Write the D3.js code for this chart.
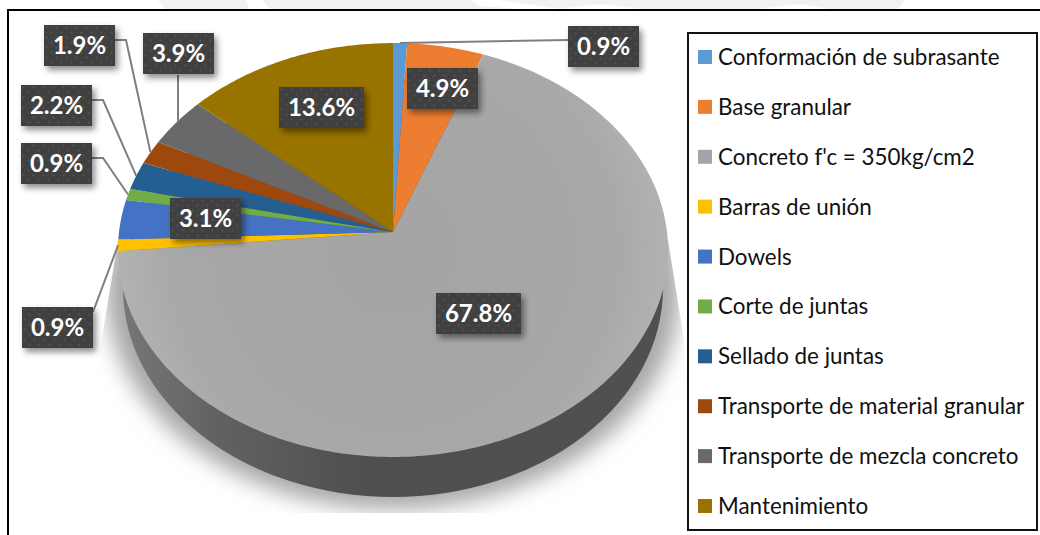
<!DOCTYPE html>
<html>
<head>
<meta charset="utf-8">
<script src="https://cdn.jsdelivr.net/npm/d3@7"></script>
<style>
html,body{margin:0;padding:0;background:#fff;overflow:hidden}
text{font-family:Lato,"Open Sans",sans-serif}
</style>
</head>
<body>
<div id="chart"></div>
<script>

const categories = ["Conformación de subrasante","Base granular","Concreto f'c = 350kg/cm2","Barras de unión","Dowels","Corte de juntas","Sellado de juntas","Transporte de material granular","Transporte de mezcla concreto","Mantenimiento"]
const values = [0.9,4.9,67.8,0.9,3.1,0.9,2.2,1.9,3.9,13.6]
const labels = ["0.9%","4.9%","67.8%","0.9%","3.1%","0.9%","2.2%","1.9%","3.9%","13.6%"]
const colors = ["#5b9bd5","#ed7d31","#a5a5a5","#ffc000","#4472c4","#70ad47","#255e91","#9e480e","#696969","#997300"]

// label box left/top, set by hand like the manually dragged labels of the original
const labelLeft = [568,407,436,22,170,21,21,44,143,279]
const labelTop = [26,68,293,307,198,143,85,25,33,87]

const width = 1040
const height = 535

// apex of the slices and the perspective of the tilted disc
const apexX = 393
const apexY = 232
const scaleX = 274
const scaleY = 205.4
const tilt = 0.087

function project(angle,r){
const u = r*Math.sin(angle)
const v = r*Math.cos(angle)
const d = 1+tilt*v
return [apexX+scaleX*u/d, apexY-scaleY*v/d]
}

const svg = d3.select("#chart")
.append("svg")
.attr("width",width)
.attr("height",height)

const defs = svg.append("defs")

const blur = defs.append("filter")
.attr("id","pieShadow")
.attr("x","-20%").attr("y","-20%").attr("width","140%").attr("height","140%")
blur.append("feGaussianBlur").attr("stdDeviation",11)

const boxShadow = defs.append("filter")
.attr("id","boxShadow")
.attr("x","-30%").attr("y","-30%").attr("width","160%").attr("height","160%")
boxShadow.append("feDropShadow")
.attr("dx",3).attr("dy",4).attr("stdDeviation",3)
.attr("flood-color","#000").attr("flood-opacity",0.45)

const dots = defs.append("pattern")
.attr("id","dots")
.attr("width",10).attr("height",10)
.attr("patternUnits","userSpaceOnUse")
dots.append("rect").attr("width",10).attr("height",10).attr("fill","#404040")
dots.append("circle").attr("cx",2.5).attr("cy",2.5).attr("r",1).attr("fill","#555")
dots.append("circle").attr("cx",7.5).attr("cy",7.5).attr("r",1).attr("fill","#555")

const wallGrad = defs.append("linearGradient").attr("id","wallGrad")
wallGrad.append("stop").attr("offset","0%").attr("stop-color","#777")
wallGrad.append("stop").attr("offset","18%").attr("stop-color","#616161")
wallGrad.append("stop").attr("offset","45%").attr("stop-color","#4f4f4f")
wallGrad.append("stop").attr("offset","100%").attr("stop-color","#505050")

const topGrad = defs.append("radialGradient")
.attr("id","topGrad")
.attr("gradientUnits","userSpaceOnUse")
.attr("cx",apexX).attr("cy",250).attr("r",275)
topGrad.append("stop").attr("offset","0%").attr("stop-color","#a4a4a4")
topGrad.append("stop").attr("offset","80%").attr("stop-color","#a8a8a8")
topGrad.append("stop").attr("offset","100%").attr("stop-color","#b2b2b2")

defs.append("clipPath").attr("id","shadowClip")
.append("path")
.attr("d","M118,240L100,350L90,513L690,513L684,340L668,240Z")

// faint watermark left at the top edge of the scan
const mark = svg.append("g").attr("fill","#f2f2f2")
mark.append("path").attr("d","M158,0L245,0L250,9L165,9Z")
mark.append("path").attr("d","M262,0L470,0L480,6L520,9L270,9Z")
mark.append("path").attr("d","M500,0L905,0L898,9L830,9L800,4L760,9L640,9L600,4L560,9Z")

// outer frame
svg.append("path")
.attr("d","M8,535V10H1040")
.attr("fill","none")
.attr("stroke","#000")
.attr("stroke-width",2)

// shadow and side wall
svg.append("g")
.attr("clip-path","url(#shadowClip)")
.append("ellipse")
.attr("cx",apexX).attr("cy",290)
.attr("rx",287).attr("ry",219)
.attr("fill","#a6a6a6")
.attr("filter","url(#pieShadow)")

svg.append("ellipse")
.attr("cx",apexX).attr("cy",288)
.attr("rx",270).attr("ry",209)
.attr("fill","url(#wallGrad)")

// slices
const pie = d3.pie().value(d=>d).sort(null)
const arcs = pie(values)

const line = d3.line()

function slicePath(d){
const n = Math.max(4,Math.ceil((d.endAngle-d.startAngle)*60))
const pts = d3.range(n+1).map(i=>project(d.startAngle+(d.endAngle-d.startAngle)*i/n,1))
return line([[apexX,apexY]].concat(pts))+"Z"
}

svg.selectAll("path.slice")
.data(arcs)
.enter()
.append("path")
.attr("class","slice")
.attr("d",slicePath)
.attr("fill",(d,i)=>i==2 ? "url(#topGrad)" : colors[i])

// leader lines, from the box edge to the middle of the slice rim
function leader(i){
const d = arcs[i]
const rim = project((d.startAngle+d.endAngle)/2,1)
const l = labelLeft[i]
const t = labelTop[i]
if(i==0) return [[l,t+14],rim]
if(i==3) return [[l+71,t+5],rim]
if(i==8) return [[l+35,t+42],[l+35,rim[1]]]
return [[l+71,t+15],[l+82,t+15],rim]
}

const leaders = [0,3,5,6,7,8]

svg.selectAll("path.leader")
.data(leaders)
.enter()
.append("path")
.attr("class","leader")
.attr("d",i=>line(leader(i)))
.attr("fill","none")
.attr("stroke","#7f7f7f")
.attr("stroke-width",2)

// value labels
const boxes = svg.selectAll("g.label")
.data(labels)
.enter()
.append("g")
.attr("class","label")
.attr("transform",(d,i)=>`translate(${labelLeft[i]},${labelTop[i]})`)

const boxWidth = d=>d.length>4 ? 85 : 71

boxes.append("rect")
.attr("width",boxWidth)
.attr("height",41)
.attr("fill","url(#dots)")
.attr("filter","url(#boxShadow)")

boxes.append("text")
.attr("x",d=>boxWidth(d)/2)
.attr("y",29)
.attr("text-anchor","middle")
.attr("fill","#fff")
.attr("font-size","24px")
.attr("font-weight","bold")
.text(d=>d)

// legend
svg.append("rect")
.attr("x",688).attr("y",33)
.attr("width",349).attr("height",497)
.attr("fill","#fff")
.attr("stroke","#111")
.attr("stroke-width",2)

const legendY = d3.scalePoint()
.domain(categories)
.range([57,506])

const legend = svg.selectAll("g.legend")
.data(categories)
.enter()
.append("g")
.attr("class","legend")
.attr("transform",d=>`translate(698,${legendY(d)})`)

legend.append("rect")
.attr("y",-7)
.attr("width",14)
.attr("height",14)
.attr("fill",(d,i)=>colors[i])

legend.append("text")
.attr("x",20)
.attr("y",8)
.attr("fill","#111")
.attr("font-size","22.4px")
.text(d=>d)

</script>
</body>
</html>
